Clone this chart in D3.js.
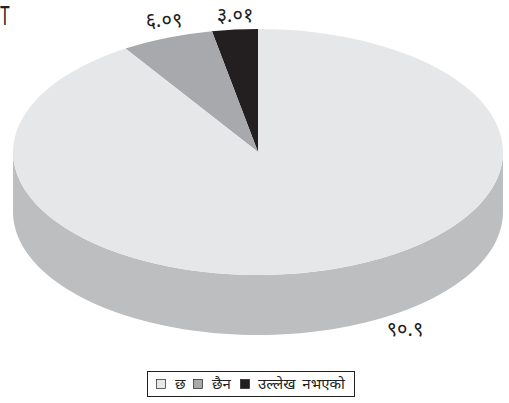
<!DOCTYPE html>
<html><head><meta charset="utf-8">
<script src="https://cdn.jsdelivr.net/npm/d3@7"></script>
<style>html,body{margin:0;padding:0;background:#fff}svg{display:block}text{font-family:"Noto Sans","Noto Sans CJK SC","DejaVu Sans",sans-serif;fill:#231f20}</style>
</head><body><script>
const categories = ["उल्लेख नभएको", "छैन", "छ"];
const values = [3.01, 6.09, 90.9];
const valueLabels = ["३.०१", "६.०९", "९०.९"];
const colors = ["#231f20", "#a7a9ac", "#e6e7e8"];
const legendOrder = ["छ", "छैन", "उल्लेख नभएको"];
const cx = 258, cy = 152, rx = 245, ry = 123, depth = 60;

const svg = d3.select("body").append("svg").attr("width", 509).attr("height", 403);
const pie = d3.pie().sort(null).startAngle(0).endAngle(-2 * Math.PI)(values);

// side wall
const side = d3.range(0, 181, 2).map(d => d * Math.PI / 180);
const pts = side.map(a => [cx + rx * Math.cos(a), cy + ry * Math.sin(a)]);
svg.append("path")
  .attr("d", d3.line()(pts.concat(pts.slice().reverse().map(p => [p[0], p[1] + depth]))) + "Z")
  .attr("fill", "#bcbec0");

// top
const arc = d3.arc().innerRadius(0).outerRadius(rx);
svg.append("g").attr("transform", `translate(${cx},${cy}) scale(1,${ry / rx})`)
  .selectAll("path").data(pie).join("path")
  .attr("d", arc).attr("fill", (d, i) => colors[i]);

// value labels
const labelPos = [[235, 22], [164, 27], [405, 336]];
svg.selectAll("text.v").data(valueLabels).join("text").attr("class", "v")
  .attr("x", (d, i) => labelPos[i][0]).attr("y", (d, i) => labelPos[i][1])
  .attr("text-anchor", "middle").attr("font-size", 20).text(d => d);

svg.append("text").attr("transform", "translate(0,25) scale(1,1.7)").attr("font-size", 16)
  .style("font-family", "Liberation Sans").text("T");

// legend
svg.append("rect").attr("x", 147.5).attr("y", 371.5).attr("width", 207).attr("height", 25)
  .attr("fill", "#fff").attr("stroke", "#231f20");
const legendX = [[156, 175], [193, 212], [240, 258]];
const lg = svg.selectAll("g.l").data(legendOrder).join("g").attr("class", "l");
lg.append("rect").attr("x", (d, i) => legendX[i][0] + .5).attr("y", 379.5).attr("width", 9).attr("height", 9)
  .attr("fill", d => colors[categories.indexOf(d)]).attr("stroke", "#231f20").attr("stroke-width", .7);
lg.append("text").attr("x", (d, i) => legendX[i][1]).attr("y", 389).attr("font-size", 15).attr("word-spacing", 3).text(d => d);
</script></body></html>
